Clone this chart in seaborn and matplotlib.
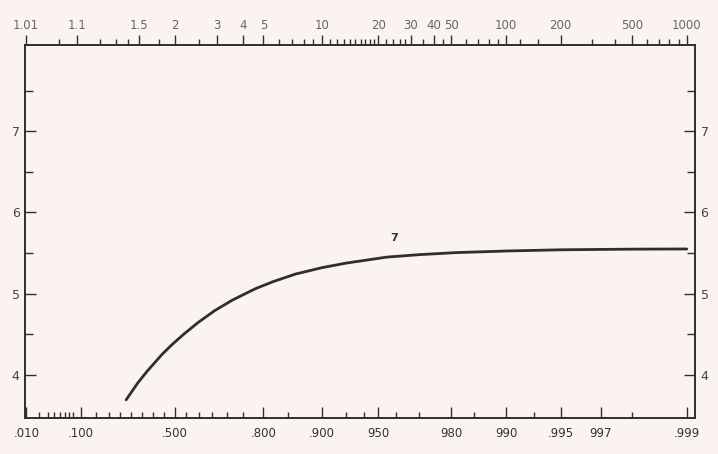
import numpy as np
import pandas as pd
import seaborn as sns
import matplotlib.pyplot as plt

# curve: non-exceedance probability vs value
prob = [0.276, 0.33, 0.376, 0.443, 0.488, 0.54, 0.599, 0.66, 0.718, 0.781, 0.82,
        0.862, 0.900, 0.925, 0.955, 0.970, 0.981, 0.990, 0.995, 0.998, 0.999]
value = [3.69, 3.90, 4.05, 4.25, 4.37, 4.50, 4.645, 4.79, 4.92, 5.06, 5.145,
         5.24, 5.32, 5.375, 5.45, 5.48, 5.505, 5.525, 5.54, 5.548, 5.55]
curve_label = '7'

# bottom axis (probability) and top axis (return period)
prob_ticks = [0.010, 0.100, 0.500, 0.800, 0.900, 0.950, 0.980, 0.990, 0.995, 0.997, 0.999]
prob_labels = ['.010', '.100', '.500', '.800', '.900', '950', '980', '990', '.995', '997', '.999']
prob_minor = [0.02, 0.03, 0.04, 0.05, 0.06, 0.07, 0.08, 0.15, 0.2, 0.25, 0.3, 0.35, 0.4, 0.45,
              0.55, 0.6, 0.65, 0.7, 0.75, 0.85, 0.925, 0.94, 0.96, 0.97, 0.985, 0.993, 0.998]
period_ticks = [1.01, 1.1, 1.5, 2, 3, 4, 5, 10, 20, 30, 40, 50, 100, 200, 500, 1000]
period_minor = [1.05, 1.2, 1.3, 1.4, 1.75, 2.5, 6, 7, 8, 9, 11, 12, 13, 14, 15, 16, 17, 18, 19,
                22, 24, 26, 28, 35, 45, 60, 70, 80, 90, 120, 150, 300, 400, 600, 700, 800, 900]
y_major = [4, 5, 6, 7]
y_minor = [4.5, 5.5, 6.5, 7.5]


def gumbel(p):
    p = np.asarray(p, dtype=float)
    return -np.log(-np.log(p))


df = pd.DataFrame({'g': gumbel(prob), 'v': value})

sns.set_style('ticks')
bg = '#faf3f1'
ink = '#2e2e2e'
fig = plt.figure(figsize=(7.18, 4.54), dpi=100, facecolor=bg)
ax = fig.add_axes([0.035, 0.08, 0.933, 0.82])
ax.set_facecolor(bg)

sns.lineplot(data=df, x='g', y='v', ax=ax, color=ink, linewidth=2)
ax.text(gumbel(0.959), 5.62, curve_label, fontsize=8, fontweight='bold',
        color=ink, ha='center', va='bottom')

ax.set_xlim(gumbel(0.0093), gumbel(0.9991))
ax.set_ylim(3.47, 8.06)
ax.set_xlabel('')
ax.set_ylabel('')

for s in ax.spines.values():
    s.set_color(ink)
    s.set_linewidth(1.4)

ax.set_xticks(gumbel(prob_ticks))
ax.set_xticklabels(prob_labels)
ax.set_xticks(gumbel(prob_minor), minor=True)
ax.tick_params(axis='x', which='major', direction='in', length=8, width=1,
               color=ink, labelsize=8.5, labelcolor='#333333', pad=7)
ax.tick_params(axis='x', which='minor', direction='in', length=4, width=1, color=ink)

ax.set_yticks(y_major)
ax.set_yticks(y_minor, minor=True)
ax.tick_params(axis='y', which='both', direction='in', left=True, right=True,
               labelleft=True, labelright=True, color=ink, width=1,
               labelsize=9, labelcolor='#444444', pad=4)
ax.tick_params(axis='y', which='major', length=8)
ax.tick_params(axis='y', which='minor', length=6)

top = ax.twiny()
top.set_xlim(ax.get_xlim())
top.set_xticks(gumbel(1 - 1 / np.array(period_ticks)))
top.set_xticklabels([str(t) for t in period_ticks])
top.set_xticks(gumbel(1 - 1 / np.array(period_minor)), minor=True)
top.tick_params(axis='x', which='major', direction='out', length=7, width=1,
                color=ink, labelsize=8.5, labelcolor='#666666', pad=3)
top.tick_params(axis='x', which='minor', direction='out', length=4, width=1, color=ink)
for s in top.spines.values():
    s.set_visible(False)

fig.savefig('out.png', dpi=100, facecolor=bg)
